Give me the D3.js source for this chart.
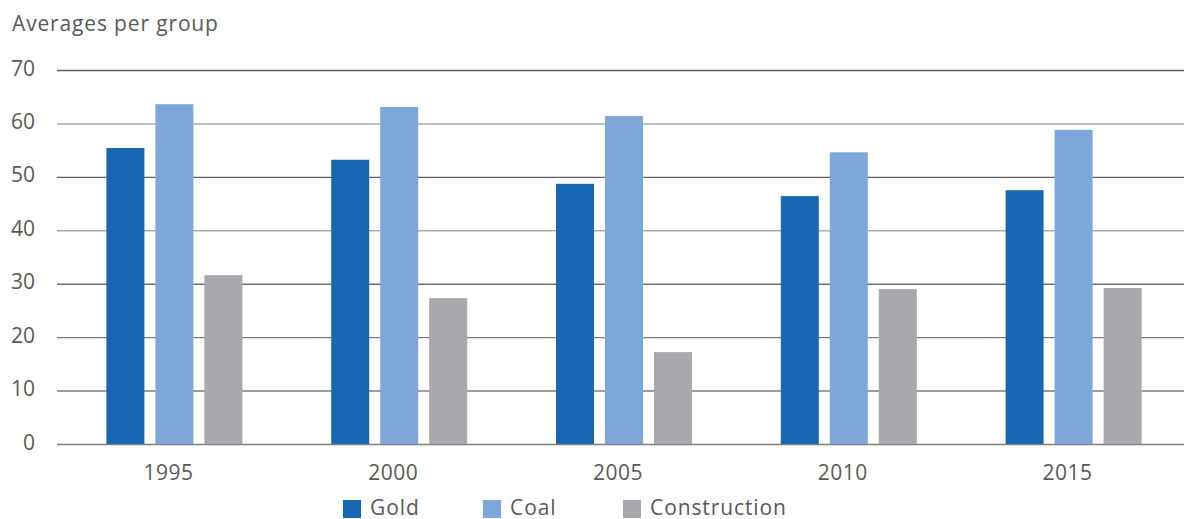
<!DOCTYPE html>
<html><head><meta charset="utf-8">
<script src="https://cdn.jsdelivr.net/npm/d3@7"></script>
<style>body{margin:0;background:#fff}svg text{font-family:"Open Sans",Roboto,sans-serif;fill:#595959}</style>
</head><body><svg id="c" width="1184" height="519"></svg>
<script>
const years = ["1995","2000","2005","2010","2015"];
const seriesNames = ["Gold","Coal","Construction"];
const gold = [55.4, 53.2, 48.7, 46.4, 47.5];
const coal = [63.6, 63.1, 61.4, 54.6, 58.8];
const construction = [31.6, 27.3, 17.2, 29.0, 29.2];
const yTicks = [0,10,20,30,40,50,60,70];
const colors = ["#1767b3","#7ca7d8","#a8a9ad"];
const gridColors = {0:"#7d7d7d",10:"#7d7d7d",20:"#7d7d7d",30:"#6f6f6f",40:"#ababab",50:"#5f5f5f",60:"#ababab",70:"#5f5f5f"};

const svg = d3.select("#c");
const y = d3.scaleLinear().domain([0,70]).range([444,70]);
const x0 = d3.scaleBand().domain(years).range([62,1186]);
const x1 = d3.scaleBand().domain(seriesNames).range([0,136]).paddingInner(0.2245).paddingOuter(0);
const data = [gold, coal, construction];

// gridlines
const gy = d3.axisLeft(y).tickValues(yTicks).tickSize(-(1184-57)).tickFormat(d=>d).tickPadding(22);
const gAxis = svg.append("g").attr("transform","translate(57,0)").call(gy);
gAxis.select(".domain").remove();
gAxis.selectAll(".tick line").attr("stroke",d=>gridColors[d]).attr("stroke-width",1.4);
gAxis.selectAll(".tick text").attr("font-size",21).attr("fill","#595959").attr("dy","0.24em");

// bars
years.forEach((yr,i)=>{
  const g = svg.append("g").attr("transform",`translate(${x0(yr)+x0.bandwidth()/2-68},0)`);
  seriesNames.forEach((s,j)=>{
    g.append("rect").attr("x",x1(s)).attr("y",y(data[j][i])).attr("width",x1.bandwidth())
      .attr("height",y(0)-y(data[j][i])).attr("fill",colors[j]);
  });
});

// x labels
const xa = d3.axisBottom(x0).tickSize(0).tickPadding(21);
const xg = svg.append("g").attr("transform","translate(-6,444)").call(xa);
xg.select(".domain").remove();
xg.selectAll(".tick text").attr("font-size",21).attr("fill","#595959").attr("letter-spacing","0.5px");

// title
svg.append("text").attr("x",12).attr("y",31).attr("font-size",21).attr("letter-spacing","0.85px").text("Averages per group");

// legend
const legX = [343,483,623];
seriesNames.forEach((s,j)=>{
  svg.append("rect").attr("x",legX[j]).attr("y",500).attr("width",18).attr("height",18).attr("fill",colors[j]);
  svg.append("text").attr("x",legX[j]+27).attr("y",515).attr("font-size",21).attr("letter-spacing","0.9px").text(s);
});
</script></body></html>
